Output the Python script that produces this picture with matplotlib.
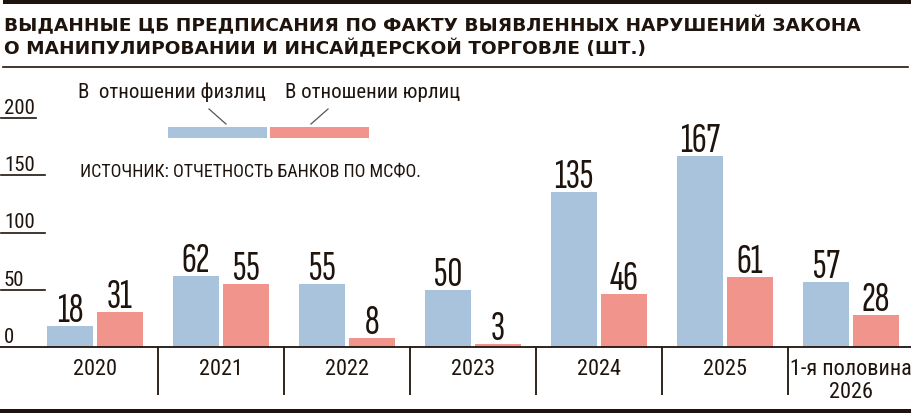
import numpy as np
import matplotlib.pyplot as plt
from matplotlib import transforms
from matplotlib.patches import Rectangle
from matplotlib.lines import Line2D

# данные с картинки
years = ['2020', '2021', '2022', '2023', '2024', '2025', '1-я половина\n2026']
fiz = [18, 62, 55, 50, 135, 167, 57]   # в отношении физлиц
yur = [31, 55, 8, 3, 46, 61, 28]       # в отношении юрлиц
yticks = [0, 50, 100, 150, 200]

title1 = 'ВЫДАННЫЕ ЦБ ПРЕДПИСАНИЯ ПО ФАКТУ ВЫЯВЛЕННЫХ НАРУШЕНИЙ ЗАКОНА'
title2 = 'О МАНИПУЛИРОВАНИИ И ИНСАЙДЕРСКОЙ ТОРГОВЛЕ (ШТ.)'
leg_fiz = 'В  отношении физлиц'
leg_yur = 'В отношении юрлиц'
source = 'ИСТОЧНИК: ОТЧЕТНОСТЬ БАНКОВ ПО МСФО.'

BLUE = '#a9c3dc'
RED = '#f1958c'
DARK = '#1f140d'

NARROW = ['Roboto Condensed', 'Liberation Sans Narrow', 'DejaVu Sans']
TALL = ['Sofia Sans Extra Condensed', 'Oswald', 'Roboto Condensed', 'DejaVu Sans']

W, H = 911, 414
fig = plt.figure(figsize=(W / 100, H / 100), dpi=100)
ax = fig.add_axes([0, 0, 1, 1])
ax.axis('off')


def fx(p):
    return p / W


def fy(p):
    return 1 - p / H


pxu = 1.145  # пикселей на единицу
ax.set_xlim(-95 / 126, (W - 95) / 126)
ax.set_ylim(-(H - 348) / pxu, 348 / pxu)

x = np.arange(len(years))
bw = 46 / 126
off = 25 / 126
ax.bar(x - off, fiz, bw, color=BLUE)
ax.bar(x + off, yur, bw, color=RED)

for xi, v in zip(x, fiz):
    ax.text(xi - off, v + 5 / pxu, str(v), ha='center', va='baseline',
            fontsize=30, family=TALL, color=DARK)
for xi, v in zip(x, yur):
    ax.text(xi + off, v + 5 / pxu, str(v), ha='center', va='baseline',
            fontsize=30, family=TALL, color=DARK)

# подписи категорий
for xi, lab in zip(x, years):
    ax.text(xi, -11 / pxu, lab, ha='center', va='top', fontsize=16,
            family=NARROW, color=DARK, linespacing=1.15)

# ось
ax.axhline(0, color=DARK, lw=1.3)
ax.vlines(x[:-1] + 0.5, -48 / pxu, 0, color=DARK, lw=1.3)

# шкала слева
bt = transforms.blended_transform_factory(ax.transAxes, ax.transData)
for v in yticks:
    ax.text(4 / W, v + 5 / pxu, str(v), transform=bt, ha='left', va='baseline',
            fontsize=15, family=NARROW, color=DARK)
    if v > 0:
        x1 = 36 if v == max(yticks) else 45
        ax.plot([1 / W, x1 / W], [v, v], transform=bt, color=DARK, lw=1.2)

# шапка
fig.patches.append(Rectangle((fx(3), fy(5)), fx(908), 5 / H, transform=fig.transFigure,
                             color=DARK, lw=0))
fig.text(fx(4), fy(31), title1, va='baseline', fontsize=13.3, weight='bold',
         family='DejaVu Sans', color=DARK)
fig.text(fx(4), fy(54), title2, va='baseline', fontsize=13.3, weight='bold',
         family='DejaVu Sans', color=DARK)
fig.lines.append(Line2D([fx(3), fx(908)], [fy(68), fy(68)], transform=fig.transFigure,
                        color=DARK, lw=1.2))

# легенда
fig.text(fx(78), fy(98), leg_fiz, va='baseline', fontsize=15, family=NARROW, color=DARK)
fig.text(fx(285), fy(98), leg_yur, va='baseline', fontsize=15, family=NARROW, color=DARK)
fig.patches.append(Rectangle((fx(168), fy(139)), 99 / W, 11 / H, transform=fig.transFigure,
                             color=BLUE, lw=0))
fig.patches.append(Rectangle((fx(270), fy(139)), 99 / W, 11 / H, transform=fig.transFigure,
                             color=RED, lw=0))
fig.lines.append(Line2D([fx(209), fx(226)], [fy(110), fy(125)], transform=fig.transFigure,
                        color='#555555', lw=0.9))
fig.lines.append(Line2D([fx(328), fx(311)], [fy(110), fy(125)], transform=fig.transFigure,
                        color='#555555', lw=0.9))

fig.text(fx(80), fy(177), source, va='baseline', fontsize=13, family=NARROW, color=DARK)

# нижняя полоса
fig.patches.append(Rectangle((0, 0), 1, 4 / H, transform=fig.transFigure, color=DARK, lw=0))

fig.savefig('out.png', dpi=100)
